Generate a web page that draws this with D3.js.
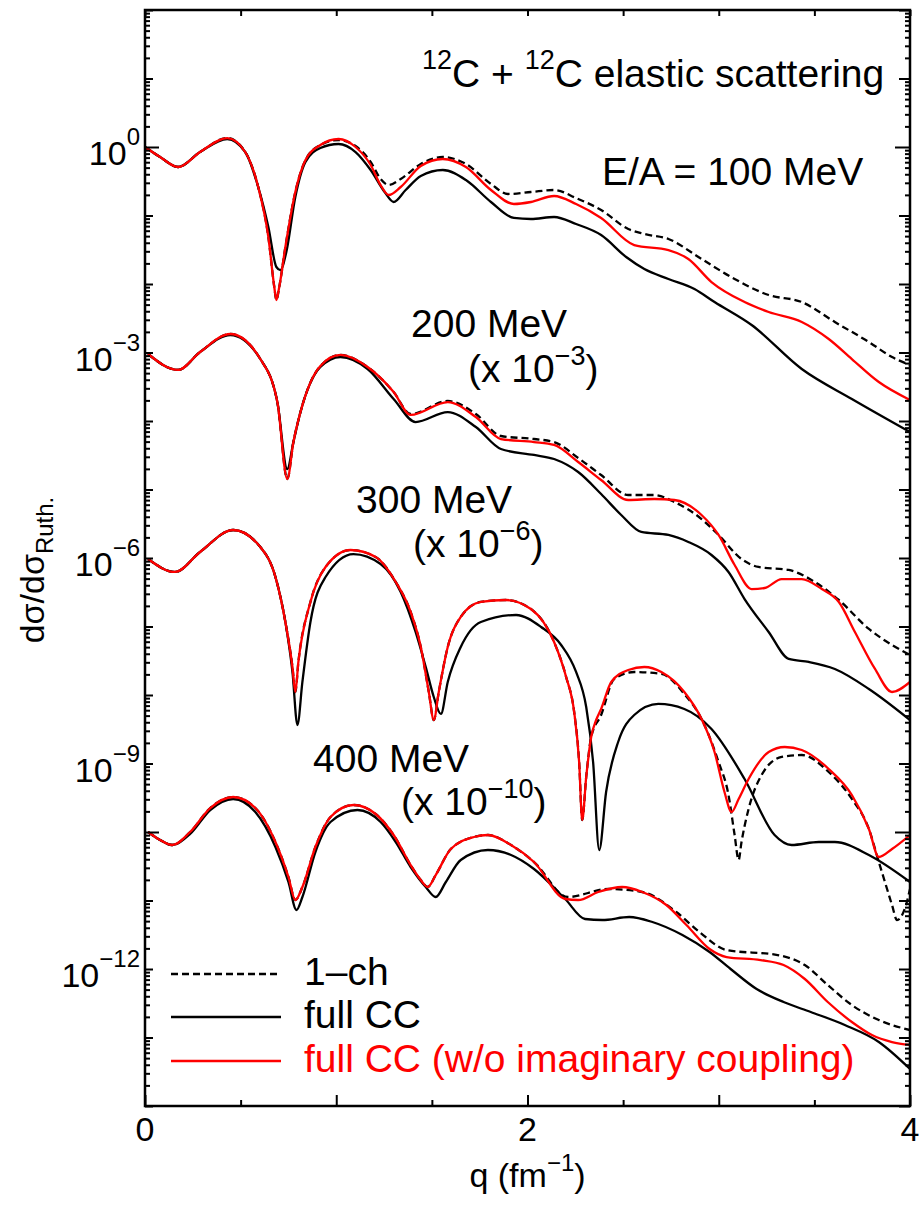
<!DOCTYPE html>
<html><head><meta charset="utf-8">
<script src="https://cdn.jsdelivr.net/npm/d3@7"></script>
<style>
body{margin:0;background:#fff}
text{font-family:"Liberation Sans",Arial,Helvetica,sans-serif;fill:#000}
</style>
</head><body>
<svg id="chart" width="919" height="1205"></svg>
<script>
// ---- data: [q (fm^-1), log10(dσ/dσRuth) incl. scaling] ----
const e100_1ch = [[0,0],[0.079,-0.146],[0.173,-0.292],[0.288,-0.073],[0.43,0.131],[0.524,-0.073],[0.592,-0.584],[0.645,-1.314],[0.676,-2.044],[0.687,-2.234],[0.702,-2.044],[0.734,-1.46],[0.786,-0.657],[0.839,-0.19],[0.917,0.029],[1.012,0.102],[1.101,0.015],[1.18,-0.219],[1.232,-0.467],[1.274,-0.555],[1.337,-0.467],[1.442,-0.248],[1.557,-0.146],[1.678,-0.248],[1.809,-0.54],[1.898,-0.686],[2.018,-0.657],[2.139,-0.628],[2.254,-0.745],[2.385,-0.92],[2.527,-1.197],[2.611,-1.27],[2.737,-1.343],[2.91,-1.635],[3.083,-1.927],[3.261,-2.161],[3.434,-2.263],[3.607,-2.555],[3.785,-2.847],[3.906,-3.066],[4.0,-3.182]];
const e100_full = [[0,0],[0.079,-0.146],[0.173,-0.292],[0.288,-0.073],[0.43,0.117],[0.524,-0.073],[0.592,-0.584],[0.645,-1.168],[0.687,-1.752],[0.708,-1.796],[0.739,-1.533],[0.786,-0.73],[0.839,-0.219],[0.917,-0.015],[1.012,0.044],[1.101,-0.073],[1.18,-0.336],[1.253,-0.657],[1.30,-0.803],[1.363,-0.628],[1.442,-0.423],[1.557,-0.336],[1.678,-0.482],[1.809,-0.803],[1.929,-1.036],[2.018,-1.051],[2.139,-1.022],[2.254,-1.124],[2.385,-1.285],[2.516,-1.606],[2.611,-1.781],[2.737,-1.927],[2.873,-2.073],[2.978,-2.263],[3.172,-2.599],[3.434,-3.241],[3.696,-3.679],[4.0,-4.161]];
const e100_noIm = [[0,0],[0.079,-0.146],[0.173,-0.292],[0.288,-0.073],[0.43,0.131],[0.524,-0.073],[0.592,-0.584],[0.645,-1.314],[0.676,-2.044],[0.687,-2.234],[0.702,-2.044],[0.734,-1.46],[0.786,-0.657],[0.839,-0.19],[0.917,0.029],[1.012,0.117],[1.101,0.0],[1.18,-0.263],[1.232,-0.555],[1.274,-0.701],[1.337,-0.584],[1.442,-0.277],[1.557,-0.175],[1.678,-0.292],[1.809,-0.628],[1.929,-0.832],[2.018,-0.803],[2.139,-0.715],[2.254,-0.832],[2.385,-1.036],[2.558,-1.431],[2.737,-1.504],[2.841,-1.635],[2.962,-1.971],[3.135,-2.263],[3.261,-2.409],[3.434,-2.555],[3.575,-2.803],[3.696,-3.095],[3.837,-3.431],[4.0,-3.693]];

const e200_1ch = [[0.016,-3.022],[0.173,-3.255],[0.288,-2.993],[0.446,-2.73],[0.603,-3.095],[0.692,-3.723],[0.744,-4.847],[0.776,-4.307],[0.813,-3.869],[0.917,-3.197],[1.022,-3.036],[1.164,-3.212],[1.30,-3.577],[1.389,-3.898],[1.583,-3.708],[1.73,-3.898],[1.861,-4.219],[2.034,-4.263],[2.139,-4.307],[2.265,-4.54],[2.385,-4.789],[2.527,-5.08],[2.663,-5.08],[2.768,-5.182],[2.91,-5.431],[2.999,-5.664],[3.119,-6.015],[3.208,-6.131],[3.366,-6.175],[3.502,-6.35],[3.628,-6.613],[3.785,-7.036],[3.906,-7.27],[4.0,-7.416]];
const e200_full = [[0.016,-3.022],[0.173,-3.255],[0.288,-2.993],[0.446,-2.745],[0.603,-3.095],[0.692,-3.723],[0.744,-4.701],[0.776,-4.307],[0.813,-3.869],[0.917,-3.212],[1.022,-3.066],[1.164,-3.241],[1.30,-3.679],[1.415,-4.015],[1.583,-3.869],[1.73,-4.088],[1.861,-4.409],[2.034,-4.496],[2.139,-4.555],[2.265,-4.745],[2.385,-5.066],[2.49,-5.372],[2.595,-5.62],[2.737,-5.664],[2.841,-5.766],[2.962,-5.956],[3.051,-6.204],[3.135,-6.599],[3.261,-7.08],[3.366,-7.474],[3.471,-7.518],[3.607,-7.62],[3.785,-7.912],[4.0,-8.365]];
const e200_noIm = [[0.016,-3.022],[0.173,-3.255],[0.288,-2.993],[0.446,-2.73],[0.603,-3.095],[0.692,-3.723],[0.744,-4.847],[0.776,-4.307],[0.813,-3.869],[0.917,-3.197],[1.022,-3.036],[1.164,-3.212],[1.30,-3.577],[1.389,-3.912],[1.583,-3.723],[1.73,-3.942],[1.861,-4.263],[2.034,-4.307],[2.139,-4.35],[2.265,-4.599],[2.385,-4.861],[2.527,-5.153],[2.663,-5.139],[2.768,-5.153],[2.91,-5.372],[2.999,-5.664],[3.083,-6.102],[3.172,-6.453],[3.24,-6.438],[3.329,-6.307],[3.434,-6.307],[3.539,-6.453],[3.628,-6.642],[3.712,-7.08],[3.817,-7.62],[3.906,-7.956],[4.0,-7.81]];

const e300_1ch = [[0.016,-6.015],[0.157,-6.204],[0.288,-5.912],[0.461,-5.591],[0.603,-5.839],[0.682,-6.277],[0.734,-6.934],[0.771,-7.591],[0.786,-7.956],[0.802,-7.518],[0.865,-6.642],[0.944,-6.131],[1.075,-5.883],[1.206,-5.985],[1.311,-6.35],[1.389,-6.788],[1.442,-7.299],[1.484,-7.956],[1.51,-8.365],[1.536,-7.956],[1.583,-7.299],[1.651,-6.861],[1.756,-6.642],[1.887,-6.613],[2.018,-6.745],[2.139,-7.226],[2.202,-7.737],[2.244,-8.248],[2.27,-8.978],[2.286,-9.825],[2.307,-9.197],[2.333,-8.613],[2.385,-8.292],[2.453,-7.766],[2.558,-7.664],[2.70,-7.693],[2.82,-7.985],[2.91,-8.35],[2.999,-8.978],[3.051,-9.46],[3.083,-10.044],[3.104,-10.409],[3.119,-10.146],[3.156,-9.664],[3.224,-9.168],[3.329,-8.905],[3.434,-8.876],[3.575,-9.124],[3.696,-9.518],[3.785,-9.956],[3.837,-10.438],[3.869,-10.73],[3.906,-11.066],[3.932,-11.285],[3.979,-11.066],[4.0,-10.832]];
const e300_full = [[0.016,-6.015],[0.157,-6.204],[0.288,-5.912],[0.461,-5.591],[0.603,-5.839],[0.682,-6.277],[0.734,-6.934],[0.771,-7.664],[0.797,-8.438],[0.823,-7.81],[0.865,-6.934],[0.944,-6.277],[1.09,-5.942],[1.232,-6.088],[1.337,-6.496],[1.415,-7.08],[1.468,-7.591],[1.51,-8.029],[1.547,-8.277],[1.583,-7.81],[1.651,-7.299],[1.756,-6.934],[1.94,-6.832],[2.071,-7.007],[2.176,-7.27],[2.254,-7.664],[2.307,-8.175],[2.343,-8.978],[2.375,-10.263],[2.411,-9.416],[2.474,-8.686],[2.558,-8.292],[2.684,-8.131],[2.82,-8.204],[2.962,-8.496],[3.135,-9.226],[3.292,-10.044],[3.381,-10.19],[3.523,-10.146],[3.607,-10.146],[3.785,-10.336],[4.0,-10.73]];
const e300_noIm = [[0.016,-6.015],[0.157,-6.204],[0.288,-5.912],[0.461,-5.591],[0.603,-5.839],[0.682,-6.277],[0.734,-6.934],[0.771,-7.591],[0.786,-7.956],[0.802,-7.518],[0.865,-6.642],[0.944,-6.131],[1.075,-5.883],[1.206,-5.985],[1.311,-6.35],[1.389,-6.788],[1.442,-7.299],[1.484,-7.956],[1.51,-8.365],[1.536,-7.956],[1.583,-7.299],[1.651,-6.861],[1.756,-6.642],[1.887,-6.613],[2.018,-6.745],[2.139,-7.226],[2.202,-7.737],[2.244,-8.248],[2.27,-8.978],[2.286,-9.825],[2.307,-9.197],[2.333,-8.613],[2.359,-8.365],[2.385,-8.204],[2.438,-7.81],[2.527,-7.635],[2.611,-7.591],[2.70,-7.664],[2.82,-7.956],[2.91,-8.35],[2.978,-8.832],[3.03,-9.416],[3.067,-9.708],[3.104,-9.518],[3.156,-9.226],[3.261,-8.832],[3.345,-8.759],[3.434,-8.803],[3.575,-9.08],[3.696,-9.46],[3.785,-9.956],[3.837,-10.365],[3.906,-10.248],[4.0,-10.044]];

const e400_1ch = [[0.016,-10.0],[0.079,-10.117],[0.142,-10.19],[0.236,-10.0],[0.341,-9.65],[0.461,-9.489],[0.577,-9.65],[0.682,-10.146],[0.75,-10.657],[0.786,-10.993],[0.823,-10.803],[0.891,-10.219],[0.97,-9.781],[1.09,-9.606],[1.206,-9.737],[1.30,-10.044],[1.389,-10.482],[1.442,-10.701],[1.478,-10.803],[1.52,-10.628],[1.599,-10.248],[1.72,-10.073],[1.793,-10.044],[1.914,-10.19],[2.034,-10.438],[2.212,-10.949],[2.422,-10.832],[2.60,-10.876],[2.778,-11.168],[2.899,-11.46],[3.041,-11.723],[3.308,-11.796],[3.45,-11.942],[3.57,-12.234],[3.696,-12.526],[3.837,-12.745],[4.0,-12.891]];
const e400_full = [[0.016,-10.0],[0.079,-10.117],[0.142,-10.19],[0.236,-10.029],[0.341,-9.679],[0.461,-9.518],[0.577,-9.708],[0.682,-10.219],[0.75,-10.73],[0.792,-11.139],[0.823,-10.949],[0.891,-10.292],[0.97,-9.854],[1.111,-9.679],[1.232,-9.854],[1.311,-10.146],[1.389,-10.511],[1.468,-10.803],[1.52,-10.949],[1.573,-10.73],[1.651,-10.409],[1.793,-10.263],[1.914,-10.336],[2.034,-10.54],[2.197,-10.978],[2.301,-11.27],[2.391,-11.285],[2.532,-11.241],[2.653,-11.314],[2.81,-11.504],[2.952,-11.752],[3.062,-12.0],[3.198,-12.292],[3.339,-12.482],[3.481,-12.628],[3.659,-12.818],[3.837,-13.066],[4.0,-13.46]];
const e400_noIm = [[0.016,-10.0],[0.079,-10.117],[0.142,-10.19],[0.236,-10.0],[0.341,-9.65],[0.461,-9.489],[0.577,-9.65],[0.682,-10.146],[0.75,-10.657],[0.786,-10.993],[0.823,-10.803],[0.891,-10.219],[0.97,-9.781],[1.09,-9.606],[1.206,-9.737],[1.30,-10.044],[1.389,-10.482],[1.442,-10.701],[1.478,-10.803],[1.52,-10.628],[1.599,-10.248],[1.72,-10.073],[1.793,-10.044],[1.914,-10.19],[2.034,-10.438],[2.197,-10.978],[2.265,-10.993],[2.37,-10.876],[2.495,-10.803],[2.60,-10.876],[2.726,-11.066],[2.831,-11.358],[2.952,-11.708],[3.041,-11.825],[3.219,-11.869],[3.339,-11.942],[3.45,-12.146],[3.57,-12.482],[3.696,-12.774],[3.801,-12.964],[3.906,-13.066],[4.0,-13.109]];

const yLabelExps = [0, -3, -6, -9, -12];
const xLabelVals = [0, 2, 4];
const legendLabels = ["1\u2013ch", "full CC", "full CC (w/o imaginary coupling)"];

// ---- layout ----
const svg = d3.select("#chart");
const L = 145, R = 910, T = 10, B = 1106;
const x = d3.scaleLinear().domain([0, 4]).range([L, R]);
const y = d3.scaleLog().domain([1e-14, 1e2]).range([B, T]);
const FS = 39, SFS = 27;

const styles = {
  full: {stroke: "#000", dash: null},
  oneCh: {stroke: "#000", dash: "7,4"},
  noIm: {stroke: "#ff0000", dash: null}
};

svg.append("defs").append("clipPath").attr("id", "clip")
  .append("rect").attr("x", L).attr("y", T).attr("width", R - L).attr("height", B - T);

const line = d3.line()
  .x(d => x(d[0]))
  .y(d => y(Math.pow(10, d[1])))
  .curve(d3.curveMonotoneX);

const curves = [
  [e100_full, "full"], [e200_full, "full"], [e300_full, "full"], [e400_full, "full"],
  [e100_1ch, "oneCh"], [e200_1ch, "oneCh"], [e300_1ch, "oneCh"], [e400_1ch, "oneCh"],
  [e100_noIm, "noIm"], [e200_noIm, "noIm"], [e300_noIm, "noIm"], [e400_noIm, "noIm"]
];
const gC = svg.append("g").attr("clip-path", "url(#clip)");
curves.forEach(([data, k]) => {
  gC.append("path").attr("d", line(data))
    .attr("fill", "none").attr("stroke", styles[k].stroke)
    .attr("stroke-width", 2.3)
    .attr("stroke-dasharray", styles[k].dash);
});

// ---- ticks ----
const yTicks = [];
for (let e = -14; e <= 1; e++) for (let m = 1; m <= 9; m++) yTicks.push({v: m * Math.pow(10, e), major: m === 1, e});
yTicks.push({v: 100, major: true, e: 2});
const longTick = e => (e === 0 || e === -10);

const gAxL = svg.append("g").attr("transform", `translate(${L},0)`)
  .call(d3.axisLeft(y).tickValues(yTicks.map(d => d.v)).tickSize(0).tickFormat(""));
gAxL.select(".domain").remove();
const gAxR = svg.append("g").attr("transform", `translate(${R},0)`)
  .call(d3.axisRight(y).tickValues(yTicks.map(d => d.v)).tickSize(0).tickFormat(""));
gAxR.select(".domain").remove();
gAxL.selectAll(".tick line").data(yTicks)
  .attr("x2", d => d.major ? (longTick(d.e) ? 14 : 8) : 5).attr("stroke-width", 2);
gAxR.selectAll(".tick line").data(yTicks)
  .attr("x2", d => d.major ? (longTick(d.e) ? -15 : -11) : -5).attr("stroke-width", 2);

const xTicks = d3.range(0, 4.01, 0.5);
const gAxB = svg.append("g").attr("transform", `translate(0,${B})`)
  .call(d3.axisBottom(x).tickValues(xTicks).tickSize(0).tickFormat(""));
gAxB.select(".domain").remove();
gAxB.selectAll(".tick line").attr("y2", d => Number.isInteger(d) ? -11 : -6).attr("stroke-width", 2);
const gAxT = svg.append("g").attr("transform", `translate(0,${T})`)
  .call(d3.axisTop(x).tickValues(xTicks).tickSize(0).tickFormat(""));
gAxT.select(".domain").remove();
gAxT.selectAll(".tick line").attr("y2", 6).attr("stroke-width", 2);

// frame
svg.append("rect").attr("x", L).attr("y", T).attr("width", R - L).attr("height", B - T)
  .attr("fill", "none").attr("stroke", "#000").attr("stroke-width", 2.5);

// y tick labels
yLabelExps.forEach(e => {
  const t = svg.append("text").attr("x", 140).attr("y", y(Math.pow(10, e)) + 18)
    .attr("text-anchor", "end").style("font-size", "34px");
  t.append("tspan").text("10");
  t.append("tspan").attr("dy", -20).style("font-size", "24px").text(e === 0 ? "0" : "\u2212" + (-e));
});
// x tick labels
xLabelVals.forEach(v => {
  svg.append("text").attr("x", x(v)).attr("y", 1141).attr("text-anchor", "middle")
    .style("font-size", "34px").text(v);
});
// axis titles
const xt = svg.append("text").attr("x", x(2)).attr("y", 1187).attr("text-anchor", "middle").style("font-size", "34px");
xt.append("tspan").text("q (fm");
xt.append("tspan").attr("dy", -16).style("font-size", "24px").text("\u22121");
xt.append("tspan").attr("dy", 16).text(")");

const yt = svg.append("text").attr("transform", "translate(44,570) rotate(-90)")
  .attr("text-anchor", "middle").style("font-size", "34px");
yt.append("tspan").text("d\u03c3/d\u03c3");
yt.append("tspan").attr("dy", 9).style("font-size", "24px").text("Ruth.");

// annotations
const t1 = svg.append("text").attr("x", 422).attr("y", 87).style("font-size", FS + "px");
t1.append("tspan").attr("dy", -18).style("font-size", SFS + "px").text("12");
t1.append("tspan").attr("dy", 18).text("C + ");
t1.append("tspan").attr("dy", -18).style("font-size", SFS + "px").text("12");
t1.append("tspan").attr("dy", 18).text("C elastic scattering");

svg.append("text").attr("x", 602).attr("y", 185).style("font-size", FS + "px").text("E/A = 100 MeV");

const energyLabels = [
  {t: "200 MeV", x: 411, y: 337, sx: 468, sy: 382, exp: "\u22123"},
  {t: "300 MeV", x: 356, y: 513, sx: 413, sy: 557, exp: "\u22126"},
  {t: "400 MeV", x: 313, y: 772, sx: 401, sy: 815, exp: "\u221210"}
];
energyLabels.forEach(d => {
  svg.append("text").attr("x", d.x).attr("y", d.y).style("font-size", FS + "px").text(d.t);
  const s = svg.append("text").attr("x", d.sx).attr("y", d.sy).style("font-size", FS + "px");
  s.append("tspan").text("(x 10");
  s.append("tspan").attr("dy", -17).style("font-size", SFS + "px").text(d.exp);
  s.append("tspan").attr("dy", 17).text(")");
});

// legend
const legKeys = ["oneCh", "full", "noIm"];
const legY = [974, 1017, 1061];
legKeys.forEach((k, i) => {
  svg.append("line").attr("x1", 171).attr("x2", 281).attr("y1", legY[i]).attr("y2", legY[i])
    .attr("stroke", styles[k].stroke).attr("stroke-width", 2.3).attr("stroke-dasharray", styles[k].dash);
  svg.append("text").attr("x", 304).attr("y", legY[i] + 11).style("font-size", FS + "px")
    .style("fill", k === "noIm" ? "#ff0000" : "#000").text(legendLabels[i]);
});
</script>
</body></html>
